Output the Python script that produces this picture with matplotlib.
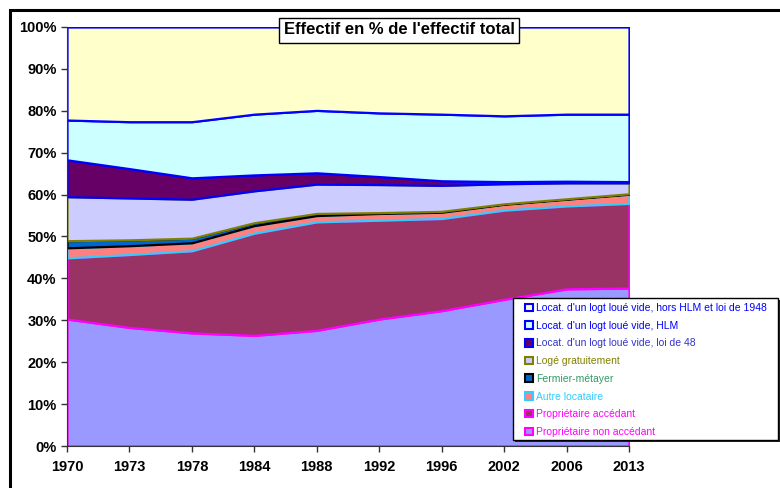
import matplotlib
matplotlib.use('Agg')
import matplotlib.pyplot as plt
from matplotlib.patches import Patch, Rectangle

plt.rcParams['font.family'] = ['Liberation Sans', 'DejaVu Sans']

years = ['1970', '1973', '1978', '1984', '1988', '1992', '1996', '2002', '2006', '2013']

# parts of the total, in % (stacked from bottom to top)
prop_non_accedant = [30.3, 28.3, 27.0, 26.4, 27.6, 30.3, 32.3, 35.0, 37.5, 37.7]
prop_accedant = [14.6, 17.4, 19.6, 24.4, 25.9, 23.6, 22.0, 21.3, 19.8, 20.2]
autre_locataire = [2.4, 2.1, 1.9, 1.8, 1.5, 1.6, 1.5, 1.4, 1.6, 2.2]
fermier_metayer = [1.7, 1.4, 1.1, 0.7, 0.5, 0.2, 0.2, 0.1, 0.1, 0.1]
loge_gratuit = [10.5, 10.0, 9.3, 7.6, 7.0, 6.7, 6.2, 4.8, 3.8, 2.6]
loi_48 = [8.8, 7.0, 5.1, 3.8, 2.7, 1.9, 1.1, 0.5, 0.4, 0.3]
hlm = [9.5, 11.2, 13.4, 14.5, 14.9, 15.2, 15.9, 15.7, 16.0, 16.1]
hors_hlm = [22.2, 22.6, 22.6, 20.8, 19.9, 20.5, 20.8, 21.2, 20.8, 20.8]

labels = ['Propriétaire non accédant', 'Propriétaire accédant', 'Autre locataire',
          'Fermier-métayer', 'Logé gratuitement', "Locat. d'un logt loué vide, loi de 48",
          "Locat. d'un logt loué vide, HLM",
          "Locat. d'un logt loué vide, hors HLM et loi de 1948"]
series = [prop_non_accedant, prop_accedant, autre_locataire, fermier_metayer,
          loge_gratuit, loi_48, hlm, hors_hlm]
fills = ['#9999FF', '#993366', '#FF8080', '#0066CC', '#CCCCFF', '#660066', '#CCFFFF', '#FFFFCC']
edges = ['#FF00FF', '#FF00FF', '#33CCFF', '#000000', '#808000', '#0000FF', '#0000FF', '#0000FF']
txtcol = ['#FF00FF', '#FF00FF', '#33CCFF', '#339966', '#808000', '#3333CC', '#0000FF', '#0000FF']

fig = plt.figure(figsize=(7.8, 4.88), dpi=100)
ax = fig.add_axes([67 / 780, 1 - 446 / 488, 562 / 780, 419 / 488])

x = list(range(len(years)))
polys = ax.stackplot(x, *series, colors=fills)
for p, ec in zip(polys, edges):
    p.set_edgecolor(ec)
    p.set_linewidth(1.6)

ax.set_xlim(0, len(years) - 1)
ax.set_ylim(0, 100)
ax.set_xticks(x)
ax.set_xticklabels(years, fontsize=10.5, fontweight='bold')
ax.set_yticks(range(0, 101, 10))
ax.set_yticklabels([f'{v}%' for v in range(0, 101, 10)], fontsize=10.5, fontweight='bold')
ax.tick_params(axis='both', direction='out', length=4, width=1, color='#333333')
ax.tick_params(axis='x', pad=6)
for s in ['top', 'right']:
    ax.spines[s].set_visible(False)
ax.spines['left'].set_color('#333333')
ax.spines['bottom'].set_color('#333333')

# chart frame (cut by the image border)
fig.patches.append(Rectangle((10 / 780, -0.1), 1.0, 1.1 - 10 / 488, transform=fig.transFigure,
                             fill=False, edgecolor='black', linewidth=2.2, zorder=0))

fig.text(399 / 780, 1 - 30 / 488, "Effectif en % de l'effectif total", ha='center', va='center',
         fontsize=12, fontweight='bold',
         bbox=dict(boxstyle='square,pad=0.3', facecolor='white', edgecolor='black', linewidth=1))

# legend box with a small shadow, drawn on its own
fig.patches.append(Rectangle((515 / 780, 1 - 442 / 488), 265 / 780, 142 / 488,
                             transform=fig.transFigure, facecolor='#222222', edgecolor='none',
                             zorder=5))
fig.patches.append(Rectangle((513 / 780, 1 - 440 / 488), 265 / 780, 142 / 488,
                             transform=fig.transFigure, facecolor='white', edgecolor='black',
                             linewidth=1, zorder=6))

handles = [Patch(facecolor=f, edgecolor=e, linewidth=1.5) for f, e in zip(fills, edges)]
leg = fig.legend(handles[::-1], labels[::-1], loc='upper left',
                 bbox_to_anchor=(525 / 780, 1 - 303 / 488), fontsize=7.5,
                 labelcolor=txtcol[::-1], frameon=False,
                 handlelength=0.75, handleheight=0.75, handletextpad=0.3,
                 labelspacing=0.74, borderpad=0, borderaxespad=0)
leg.set_zorder(7)

fig.savefig('out.png', dpi=100)
